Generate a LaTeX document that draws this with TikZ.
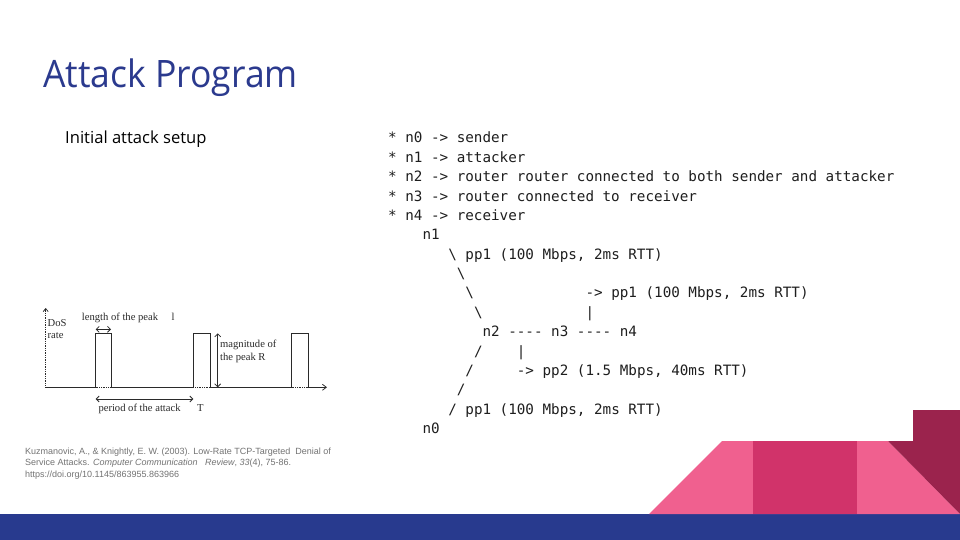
\documentclass[tikz,border=0pt]{standalone}
\usepackage{fontspec}
\setmainfont{Open Sans}
\setmonofont{DejaVu Sans Mono}
\newfontfamily\titlefont[FakeStretch=0.94]{Open Sans}
\newfontfamily\citefont{Liberation Sans}
\newfontfamily\chartfont{Liberation Serif}
\usetikzlibrary{arrows.meta}

\definecolor{titleblue}{HTML}{2B3A8E}
\definecolor{barblue}{HTML}{283A8E}
\definecolor{lightpink}{HTML}{F0608F}
\definecolor{midpink}{HTML}{D1336A}
\definecolor{darkrose}{HTML}{9B234D}
\definecolor{codegray}{HTML}{1E1E1E}
\definecolor{chartgray}{HTML}{2A2A2A}
\definecolor{citegray}{HTML}{737373}

% monospaced listing grid: column width and row pitch
\newcommand\cw{8.58}
\newcommand\rowh{19.37}
\newcommand\codeline[4]{%
  \node[code] (#3) at ({388+#1*\cw},{143+#2*\rowh}) {#4};}

\tikzset{
  code/.style={anchor=base west, inner sep=0pt, text=codegray,
    font=\ttfamily\fontsize{14.25}{19}\selectfont},
  charttext/.style={anchor=base west, inner sep=0pt, text=chartgray,
    font=\chartfont\fontsize{10.6}{12}\selectfont},
  chartline/.style={draw=chartgray, line width=0.75pt},
  dimarrow/.style={chartline, {Straight Barb[length=3pt,width=6pt]}-{Straight Barb[length=3pt,width=6pt]}},
  citetext/.style={anchor=base west, inner sep=0pt, text=citegray,
    font=\citefont\fontsize{9}{11.5}\selectfont},
}

\begin{document}
\begin{tikzpicture}[x=1pt,y=-1pt]
\useasboundingbox (0,0) rectangle (960,540);
\fill[white] (0,0) rectangle (960,540);

% title and subtitle
\node[anchor=base west, inner sep=0pt, text=titleblue,
  font=\titlefont\fontsize{37.8}{44}\selectfont] (title) at (43,88) {Attack Program};
\node[anchor=base west, inner sep=0pt, text=black,
  font=\fontsize{16.6}{19}\selectfont] (subtitle) at (65,144) {Initial attack setup};

% ---- attack rate chart ----
\coordinate (origin) at (45.7,387.3);
\coordinate (xend) at (327,387.3);
\coordinate (ytop) at (45.7,308);
% y axis (dotted) with arrow
\draw[chartline, densely dotted] (origin) -- (45.7,311);
\draw[chartline, -{Straight Barb[length=3pt,width=5pt]}] (45.7,312) -- (ytop);
% baseline: solid between pulses, dotted under pulses
\draw[chartline] (origin) -- (95.7,387.3);
\draw[chartline, densely dotted] (95.7,387.3) -- (111,387.3);
\draw[chartline] (111,387.3) -- (193.3,387.3);
\draw[chartline, densely dotted] (193.3,387.3) -- (210,387.3);
\draw[chartline] (210,387.3) -- (291.7,387.3);
\draw[chartline, densely dotted] (291.7,387.3) -- (308.3,387.3);
\draw[chartline, -{Straight Barb[length=4pt,width=6pt]}] (308.3,387.3) -- (xend);
% pulses
\draw[chartline] (95.7,387.3) -- (95.7,333.3) -- (111,333.3) -- (111,387.3);
\draw[chartline] (193.3,387.3) -- (193.3,333.3) -- (210,333.3) -- (210,387.3);
\draw[chartline] (291.7,387.3) -- (291.7,333.3) -- (308.3,333.3) -- (308.3,387.3);
% dimension arrows
\draw[dimarrow] (95.7,329.3) -- (111,329.3);
\draw[dimarrow] (217.7,333.3) -- (217.7,387.3);
\draw[dimarrow] (95.7,399) -- (193.3,399);
% chart labels
\node[charttext] (dos) at (47.5,326) {DoS};
\node[charttext] (rate) at (47.5,338.5) {rate};
\node[charttext] (peaklen) at (81.7,320.5) {length of the peak};
\node[charttext] (lsym) at (171.5,320.5) {l};
\node[charttext] (mag1) at (220,347) {magnitude of};
\node[charttext] (mag2) at (220,360) {the peak R};
\node[charttext] (period) at (98.3,411) {period of the attack};
\node[charttext] (tsym) at (197,411) {T};

% citation
\node[citetext] (cite1) at (25,454) {Kuzmanovic, A., \& Knightly, E. W. (2003). Low-Rate TCP-Targeted\ \ Denial of};
\node[citetext] (cite2) at (25,465.5) {Service Attacks. \textit{Computer Communication\ \ \ Review}, \textit{33}(4), 75-86.};
\node[citetext] (cite3) at (25,477) {https://doi.org/10.1145/863955.863966};

% ---- topology listing ----
\codeline{0}{0}{l0}{* n0 -> sender}
\codeline{0}{1}{l1}{* n1 -> attacker}
\codeline{0}{2}{l2}{* n2 -> router router connected to both sender and attacker}
\codeline{0}{3}{l3}{* n3 -> router connected to receiver}
\codeline{0}{4}{l4}{* n4 -> receiver}
\codeline{4}{5}{n1}{n1}
\codeline{7}{6}{e1}{\textbackslash{} pp1 (100 Mbps, 2ms RTT)}
\codeline{8}{7}{e2}{\textbackslash}
\codeline{9}{8}{e3}{\textbackslash}
\codeline{23}{8}{e4}{-> pp1 (100 Mbps, 2ms RTT)}
\codeline{10}{9}{e5}{\textbackslash}
\codeline{23}{9}{e6}{|}
\codeline{11}{10}{core}{n2 ---- n3 ---- n4}
\codeline{10}{11}{e7}{/}
\codeline{15}{11}{e8}{|}
\codeline{9}{12}{e9}{/}
\codeline{15}{12}{e10}{-> pp2 (1.5 Mbps, 40ms RTT)}
\codeline{8}{13}{e11}{/}
\codeline{7}{14}{e12}{/ pp1 (100 Mbps, 2ms RTT)}
\codeline{4}{15}{n0}{n0}

% ---- corner decoration ----
\fill[barblue] (0,514) rectangle (960,540);
\fill[lightpink] (649,514) -- (722,441) -- (888,441) -- (960,514) -- cycle;
\fill[midpink] (753,441) rectangle (857,514);
\fill[darkrose] (913,410) -- (960,410) -- (960,514) -- (888,441) -- (913,441) -- cycle;
\end{tikzpicture}
\end{document}
